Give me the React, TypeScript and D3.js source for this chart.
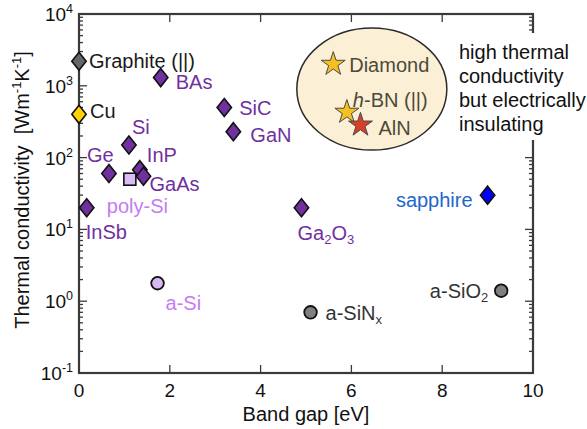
import * as React from "react";
import * as d3 from "d3";

// Material data
const materials = ["Graphite (||)", "Cu", "BAs", "SiC", "GaN", "Si", "Ge", "InP", "GaAs", "poly-Si", "InSb", "Ga2O3", "sapphire", "a-Si", "a-SiNx", "a-SiO2"];
const bandGaps = [0, 0, 1.8, 3.2, 3.4, 1.1, 0.66, 1.34, 1.42, 1.12, 0.17, 4.9, 9.0, 1.73, 5.1, 9.3];
const conductivities = [2200, 400, 1300, 500, 230, 150, 60, 68, 55, 50, 20, 20, 30, 1.78, 0.7, 1.4];

const insulators = ["Diamond", "h-BN (||)", "AlN"];
const insulatorGaps = [5.6, 5.9, 6.2];
const insulatorConductivities = [2000, 430, 285];

const xTicks = [0, 2, 4, 6, 8, 10];
const yExponents = [-1, 0, 1, 2, 3, 4];
const noteLines = ["high thermal", "conductivity", "but electrically", "insulating"];

// marker / label styling
const PURPLE = "#7030A0";
type Style = { shape: string; fill: string; color: string; dx: number; dy: number; anchor?: string };
const styles: Record<string, Style> = {
    "Graphite (||)": { shape: "diamond", fill: "#666666", color: "#1a1a1a", dx: 10, dy: 7 },
    "Cu": { shape: "diamond", fill: "#FFD200", color: "#1a1a1a", dx: 11, dy: 4 },
    "BAs": { shape: "diamond", fill: PURPLE, color: PURPLE, dx: 15, dy: 11 },
    "SiC": { shape: "diamond", fill: PURPLE, color: PURPLE, dx: 15, dy: 8 },
    "GaN": { shape: "diamond", fill: PURPLE, color: PURPLE, dx: 17, dy: 10 },
    "Si": { shape: "diamond", fill: PURPLE, color: PURPLE, dx: 3, dy: -11 },
    "Ge": { shape: "diamond", fill: PURPLE, color: PURPLE, dx: -22, dy: -12 },
    "InP": { shape: "diamond", fill: PURPLE, color: PURPLE, dx: 7, dy: -8 },
    "GaAs": { shape: "diamond", fill: PURPLE, color: PURPLE, dx: 6, dy: 15 },
    "poly-Si": { shape: "square", fill: "#D9BCF5", color: "#C57BF2", dx: -23, dy: 34 },
    "InSb": { shape: "diamond", fill: PURPLE, color: PURPLE, dx: -1, dy: 31 },
    "Ga2O3": { shape: "diamond", fill: PURPLE, color: PURPLE, dx: -4, dy: 32 },
    "sapphire": { shape: "diamond", fill: "#0000FF", color: "#2266CC", dx: -15, dy: 12, anchor: "end" },
    "a-Si": { shape: "circle", fill: "#D7B8F5", color: "#C57BF2", dx: 8, dy: 27 },
    "a-SiNx": { shape: "circle", fill: "#808080", color: "#333333", dx: 15, dy: 8 },
    "a-SiO2": { shape: "circle", fill: "#808080", color: "#333333", dx: -13, dy: 7, anchor: "end" },
};
const starStyles: Record<string, { fill: string; dx: number; dy: number }> = {
    "Diamond": { fill: "#F6C022", dx: 16, dy: 8 },
    "h-BN (||)": { fill: "#F6C022", dx: 6, dy: -5 },
    "AlN": { fill: "#D6402A", dx: 18, dy: 10 },
};

const FONT = "'Liberation Sans', Arial, Helvetica, sans-serif";

function Label({ name }: { name: string }) {
    if (name === "Ga2O3") return <>Ga<tspan fontSize={13} dy={4}>2</tspan><tspan dy={-4}>O</tspan><tspan fontSize={13} dy={4}>3</tspan></>;
    if (name === "a-SiO2") return <>a-SiO<tspan fontSize={13} dy={4}>2</tspan></>;
    if (name === "a-SiNx") return <>a-SiN<tspan fontSize={13} dy={4}>x</tspan></>;
    if (name === "h-BN (||)") return <><tspan fontStyle="italic">h</tspan>-BN (||)</>;
    return <>{name}</>;
}

function Marker({ shape, fill }: { shape: string; fill: string }) {
    if (shape === "square") return <rect x={-6} y={-6} width={12} height={12} fill={fill} stroke="#111" strokeWidth={1.6} />;
    if (shape === "circle") return <circle r={6.3} fill={fill} stroke="#111" strokeWidth={1.8} />;
    return <path d="M0,-9L7.2,0L0,9L-7.2,0Z" fill={fill} stroke="#111" strokeWidth={1.6} strokeLinejoin="miter" />;
}

export default function App() {
    const width = 587, height = 429;
    const margin = { left: 79, right: 54, top: 14, bottom: 56 };

    const x = d3.scaleLinear().domain([0, 10]).range([margin.left, width - margin.right]);
    const y = d3.scaleLog().domain([0.1, 1e4]).range([height - margin.bottom, margin.top]);
    const [x0, x1] = x.range();
    const [y0, y1] = y.range();

    const star = d3.symbol().type(d3.symbolStar).size(178)();

    // minor ticks for log axis
    const minor: number[] = [];
    yExponents.slice(0, -1).forEach(e => {
        for (let m = 2; m <= 9; m++) minor.push(m * Math.pow(10, e));
    });

    const axisColor = "#3a3a3a";

    return (
        <svg width={width} height={height} style={{ position: "absolute", left: 0, top: 0, background: "#fff" }} fontFamily={FONT}>
            {/* ticks */}
            <g stroke={axisColor} strokeWidth={1.3}>
                {yExponents.map(e => (
                    <g key={"ym" + e}>
                        <line x1={x0} x2={x0 + 8} y1={y(Math.pow(10, e))} y2={y(Math.pow(10, e))} />
                        <line x1={x1} x2={x1 - 8} y1={y(Math.pow(10, e))} y2={y(Math.pow(10, e))} />
                    </g>
                ))}
                {minor.map((v, i) => (
                    <g key={"yn" + i}>
                        <line x1={x0} x2={x0 + 4} y1={y(v)} y2={y(v)} />
                        <line x1={x1} x2={x1 - 4} y1={y(v)} y2={y(v)} />
                    </g>
                ))}
                {xTicks.map(t => (
                    <g key={"xt" + t}>
                        <line x1={x(t)} x2={x(t)} y1={y0} y2={y0 - 8} />
                        <line x1={x(t)} x2={x(t)} y1={y1} y2={y1 + 8} />
                    </g>
                ))}
            </g>
            <rect x={x0} y={y1} width={x1 - x0} height={y0 - y1} fill="none" stroke={axisColor} strokeWidth={2.2} />

            {/* tick labels */}
            <g fontSize={19} fill="#111">
                {xTicks.map(t => (
                    <text key={"xl" + t} x={x(t)} y={y0 + 24} textAnchor="middle">{t}</text>
                ))}
                {yExponents.map(e => (
                    <text key={"yl" + e} x={x0 - 6} y={y(Math.pow(10, e)) + 7} textAnchor="end">
                        10<tspan fontSize={12.5} dy={-8}>{e}</tspan>
                    </text>
                ))}
            </g>

            {/* axis titles */}
            <text x={(x0 + x1) / 2} y={y0 + 48} textAnchor="middle" fontSize={20} fill="#111">Band gap [eV]</text>
            <text transform={`translate(29, ${190}) rotate(-90)`} textAnchor="middle" fontSize={20} fill="#111">
                Thermal conductivity{"\u00a0\u00a0"}[Wm<tspan fontSize={13} dy={-8}>-1</tspan><tspan dy={8}>K</tspan><tspan fontSize={13} dy={-8}>-1</tspan><tspan dy={8}>]</tspan>
            </text>

            {/* note with white background, covers right axis */}
            <rect x={455} y={33} width={132} height={107} fill="#fff" />
            <g fontSize={20} fill="#111">
                {noteLines.map((l, i) => (
                    <text key={l} x={459} y={59 + i * 24}>{l}</text>
                ))}
            </g>

            {/* insulating group */}
            <ellipse cx={x(6.45)} cy={y(900)} rx={75} ry={61} fill="#FBF0D6" stroke="#2a2a2a" strokeWidth={1.5} />
            {insulators.map((n, i) => {
                const s = starStyles[n];
                const px = x(insulatorGaps[i]), py = y(insulatorConductivities[i]);
                return (
                    <g key={n}>
                        <path d={star!} transform={`translate(${px},${py})`} fill={s.fill} stroke="#4a4a4a" strokeWidth={1} />
                    </g>
                );
            })}
            {insulators.map((n, i) => {
                const s = starStyles[n];
                const px = x(insulatorGaps[i]), py = y(insulatorConductivities[i]);
                return (
                    <text key={"t" + n} x={px + s.dx} y={py + s.dy} fontSize={20} fill="#4d4a3a"><Label name={n} /></text>
                );
            })}

            {/* materials */}
            {materials.map((n, i) => {
                const s = styles[n];
                const px = x(bandGaps[i]), py = y(conductivities[i]);
                return (
                    <g key={n}>
                        <g transform={`translate(${px},${py})`}><Marker shape={s.shape} fill={s.fill} /></g>
                        <text x={px + s.dx} y={py + s.dy} fontSize={20} fill={s.color} textAnchor={s.anchor || "start"}><Label name={n} /></text>
                    </g>
                );
            })}
        </svg>
    );
}
